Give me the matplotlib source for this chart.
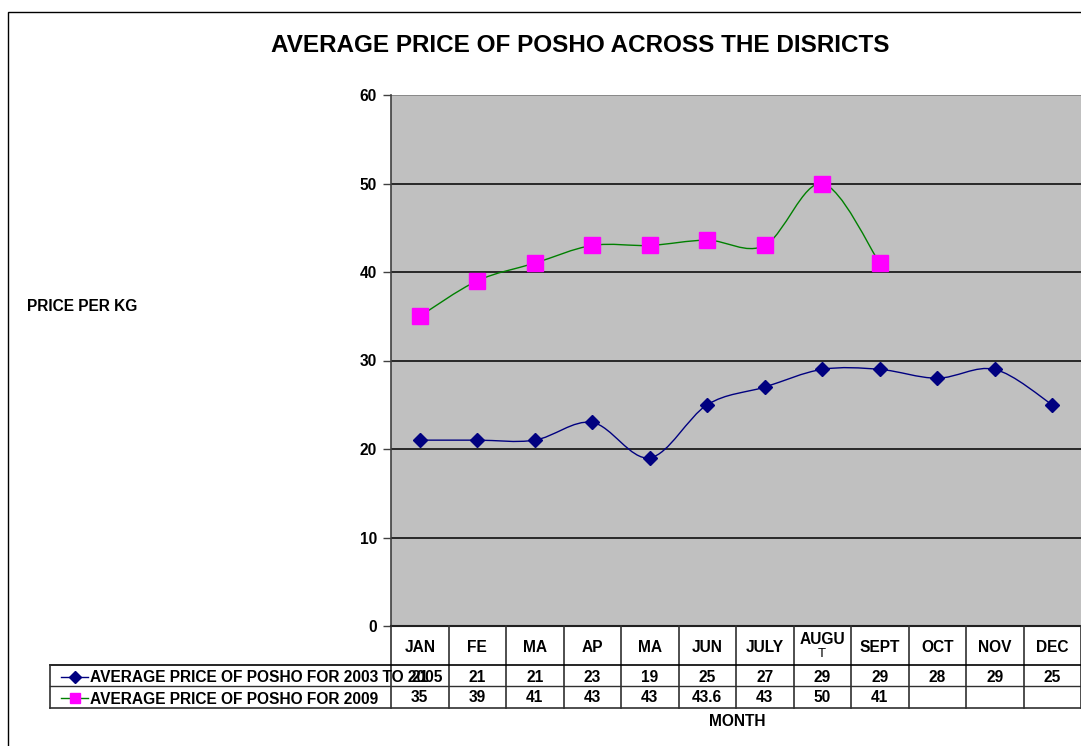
import matplotlib
matplotlib.use("Agg")
import matplotlib.pyplot as plt
from matplotlib.path import Path
from matplotlib.patches import PathPatch, Rectangle
from matplotlib.transforms import blended_transform_factory
from matplotlib.lines import Line2D

plt.rcParams['font.family'] = ['Liberation Sans', 'DejaVu Sans']
plt.rcParams['font.weight'] = 'bold'

# data
months = ["JAN", "FE", "MA", "AP", "MA", "JUN", "JULY", "AUGU\nT", "SEPT", "OCT", "NOV", "DEC"]
price_2003_2005 = [21, 21, 21, 23, 19, 25, 27, 29, 29, 28, 29, 25]
price_2009 = [35, 39, 41, 43, 43, 43.6, 43, 50, 41]
label_2003_2005 = "AVERAGE PRICE OF POSHO FOR 2003 TO 2005"
label_2009 = "AVERAGE PRICE OF POSHO FOR 2009"
yticks = [0, 10, 20, 30, 40, 50, 60]

W, H = 1081, 746
FS = 11.2
fig = plt.figure(figsize=(W / 100, H / 100), dpi=100)

def fx(x):
    return x / W

def fy(y):
    return 1 - y / H

# outer chart border
fig.patches.append(Rectangle((fx(8), fy(800)), 2, fy(12) - fy(800), transform=fig.transFigure,
                             fill=False, edgecolor='black', lw=1.0))

ax = fig.add_axes([fx(391), fy(626), fx(1081) - fx(391), fy(95) - fy(626)])
ax.set_facecolor('#c0c0c0')
ax.set_xlim(0.5, 12.5)
ax.set_ylim(0, 60)
ax.set_yticks(yticks)
ax.set_yticklabels([str(t) for t in yticks], fontsize=FS, fontweight='bold')
ax.tick_params(axis='y', length=6, width=1, direction='out', pad=4, color='#404040')
ax.set_xticks([])
for t in yticks[1:-1]:
    ax.axhline(t, color='black', lw=1.1, zorder=1)
ax.axhline(60, color='#808080', lw=1.2, zorder=1)
for s in ['top', 'right']:
    ax.spines[s].set_visible(False)
ax.spines['left'].set_color('#404040')
ax.spines['bottom'].set_color('#202020')
ax.spines['left'].set_linewidth(1.2)
ax.spines['bottom'].set_linewidth(1.5)


def smooth_path(xs, ys):
    # Excel-style smoothed line as cubic bezier segments
    pts = list(zip(xs, ys))
    verts = [pts[0]]
    codes = [Path.MOVETO]
    n = len(pts)
    for i in range(n - 1):
        p0 = pts[i - 1] if i > 0 else pts[i]
        p1 = pts[i]
        p2 = pts[i + 1]
        p3 = pts[i + 2] if i + 2 < n else pts[i + 1]
        c1 = (p1[0] + (p2[0] - p0[0]) / 6, p1[1] + (p2[1] - p0[1]) / 6)
        c2 = (p2[0] - (p3[0] - p1[0]) / 6, p2[1] - (p3[1] - p1[1]) / 6)
        verts += [c1, c2, p2]
        codes += [Path.CURVE4] * 3
    return Path(verts, codes)


x1 = list(range(1, len(price_2003_2005) + 1))
x2 = list(range(1, len(price_2009) + 1))
ax.add_patch(PathPatch(smooth_path(x1, price_2003_2005), fill=False, edgecolor='#000080', lw=1.0, zorder=3))
ax.add_patch(PathPatch(smooth_path(x2, price_2009), fill=False, edgecolor='#008000', lw=1.0, zorder=3))
ax.plot(x1, price_2003_2005, ls='none', marker='D', ms=7.5, color='#000080', zorder=4)
ax.plot(x2, price_2009, ls='none', marker='s', ms=11, color='#ff00ff', zorder=4)

fig.text(fx(580), fy(45), "AVERAGE PRICE OF POSHO ACROSS THE DISRICTS", ha='center', va='center',
         fontsize=17.5, fontweight='bold')
fig.text(fx(27), fy(306), "PRICE PER KG", ha='left', va='center', fontsize=FS, fontweight='bold')
fig.text(fx(737), fy(722), "MONTH", ha='center', va='center', fontsize=FS, fontweight='bold')

# data table below the axis
tr = blended_transform_factory(ax.transData, fig.transFigure)
lc = '#303030'
for i in range(len(months) + 1):
    fig.add_artist(Line2D([i + 0.5, i + 0.5], [fy(626), fy(708)], transform=tr, color=lc, lw=1.2))
fig.add_artist(Line2D([fx(50), fx(1081)], [fy(665), fy(665)], transform=fig.transFigure, color='black', lw=1.2))
fig.add_artist(Line2D([fx(50), fx(1081)], [fy(686), fy(686)], transform=fig.transFigure, color=lc, lw=1.0))
fig.add_artist(Line2D([fx(50), fx(1081)], [fy(708), fy(708)], transform=fig.transFigure, color=lc, lw=1.2))
fig.add_artist(Line2D([fx(50), fx(50)], [fy(665), fy(708)], transform=fig.transFigure, color=lc, lw=1.2))

for i, m in enumerate(months):
    if "\n" in m:
        top, bot = m.split("\n")
        fig.text(i + 1, fy(640), top, transform=tr, ha='center', va='center', fontsize=FS, fontweight='bold')
        fig.text(i + 1, fy(654), bot, transform=tr, ha='center', va='center', fontsize=9.5, fontweight='normal')
    else:
        fig.text(i + 1, fy(647), m, transform=tr, ha='center', va='center', fontsize=FS, fontweight='bold')
for i, v in enumerate(price_2003_2005):
    fig.text(i + 1, fy(677), f"{v:g}", transform=tr, ha='center', va='center', fontsize=FS, fontweight='bold')
for i, v in enumerate(price_2009):
    fig.text(i + 1, fy(698), f"{v:g}", transform=tr, ha='center', va='center', fontsize=FS, fontweight='bold')

# legend keys inside the table
fig.add_artist(Line2D([fx(61), fx(88)], [fy(677), fy(677)], transform=fig.transFigure, color='#000080', lw=1.0))
fig.add_artist(Line2D([fx(74.5)], [fy(677)], transform=fig.transFigure, marker='D', ms=6, color='#000080', ls='none'))
fig.add_artist(Line2D([fx(61), fx(88)], [fy(698), fy(698)], transform=fig.transFigure, color='#008000', lw=1.0))
fig.add_artist(Line2D([fx(74.5)], [fy(698)], transform=fig.transFigure, marker='s', ms=7, color='#ff00ff', ls='none'))
fig.text(fx(90), fy(678), label_2003_2005, ha='left', va='center', fontsize=FS, fontweight='bold')
fig.text(fx(90), fy(699), label_2009, ha='left', va='center', fontsize=FS, fontweight='bold')

fig.savefig("out.png", dpi=100, facecolor='white')
